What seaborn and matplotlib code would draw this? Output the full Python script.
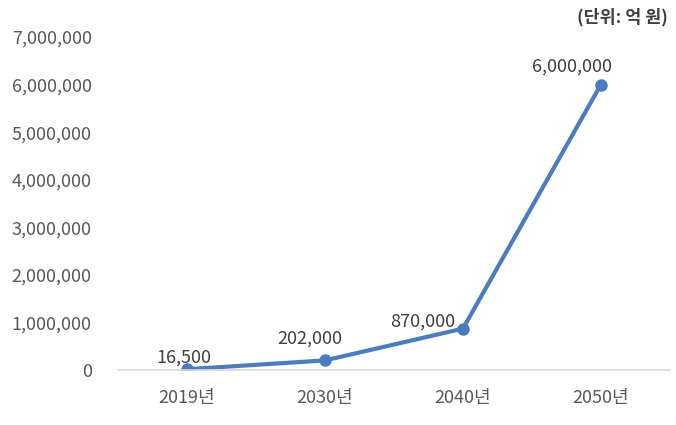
import matplotlib
matplotlib.use("Agg")
import matplotlib.pyplot as plt
import seaborn as sns
import pandas as pd
from matplotlib.ticker import FuncFormatter

years = ["2019년", "2030년", "2040년", "2050년"]
values = [16500, 202000, 870000, 6000000]
value_labels = ["16,500", "202,000", "870,000", "6,000,000"]
# label offsets (pixels) relative to each point
label_dx = [-3, -15, -40, -29]
label_dy = [12, 22, 7, 18]

sns.set_style("white")
plt.rcParams['font.family'] = ['Noto Sans CJK KR', 'DejaVu Sans']

TEXT = "#595959"
LINE = "#4A7CC0"

df = pd.DataFrame({"pos": range(len(years)), "value": values})

fig = plt.figure(figsize=(6.76, 4.25), dpi=100)
ax = fig.add_axes([0.1746, 0.1294, 0.8164, 0.7836])

sns.lineplot(data=df, x="pos", y="value", ax=ax, color=LINE, linewidth=3,
             marker="o", markersize=9, markeredgewidth=0, markeredgecolor=LINE)

for i, (v, lab) in enumerate(zip(values, value_labels)):
    ax.annotate(lab, (i, v), xytext=(label_dx[i] * 0.72, label_dy[i] * 0.72),
                textcoords="offset points", ha="center", va="center",
                fontsize=13, color="#404040")

ax.set_xlim(-0.5, 3.5)
ax.set_ylim(0, 7000000)
ax.set_yticks(range(0, 7000001, 1000000))
ax.yaxis.set_major_formatter(FuncFormatter(lambda v, p: f"{int(v):,}"))
ax.set_xticks(range(len(years)))
ax.set_xticklabels(years)
ax.set_xticks([-0.5, 0.5, 1.5, 2.5, 3.5], minor=True)
ax.tick_params(axis="x", which="major", length=0, pad=14, labelsize=13, labelcolor=TEXT)
ax.tick_params(axis="x", which="minor", length=6, direction="out", color="#D9D9D9", width=1)
ax.tick_params(axis="y", length=0, pad=19, labelsize=13, labelcolor=TEXT)
ax.set_xlabel("")
ax.set_ylabel("")

for s in ["top", "right", "left"]:
    ax.spines[s].set_visible(False)
ax.spines["bottom"].set_color("#D9D9D9")
ax.spines["bottom"].set_linewidth(1.2)

fig.text(0.988, 0.96, "(단위: 억 원)", ha="right", va="center", fontsize=12.5,
         color="#404040", fontweight="bold")

fig.savefig("out.png", dpi=100)
